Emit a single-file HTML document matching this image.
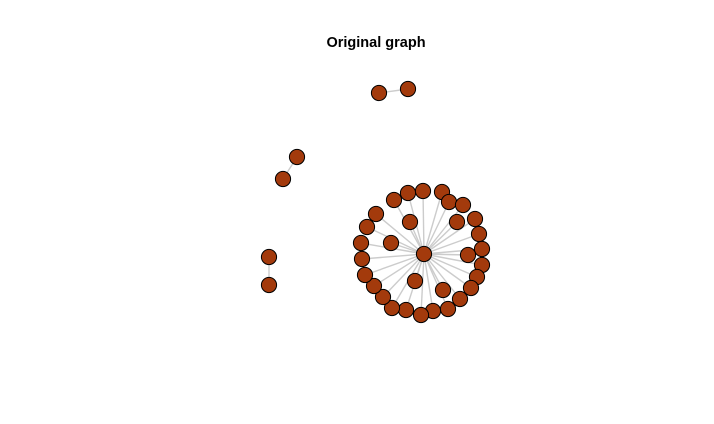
<!DOCTYPE html>
<html><head><meta charset="utf-8"><style>
html,body{margin:0;padding:0;background:#fff}
svg{display:block}
</style></head><body>
<svg id="g" width="714" height="424" xmlns="http://www.w3.org/2000/svg">
<text x="376" y="47" text-anchor="middle" font-family="Liberation Sans, sans-serif" font-weight="bold" font-size="14.5">Original graph</text>
<g id="edges"></g><g id="nodes"></g>
</svg>
<script>
const nodeX=[424,394,408,423,442,449,463,475,479,482,482,477,471,460,448,433,421,406,392,383,374,365,362,361,367,376,410,457,391,468,415,443,379,408,297,283,269,269];
const nodeY=[254,200,193,191,192,202,205,219,234,249,265,277,288,299,309,311,315,310,308,297,286,275,259,243,227,214,222,222,243,255,281,290,93,89,157,179,257,285];
const edgeFrom=[];const edgeTo=[];
for(let i=1;i<=31;i++){edgeFrom.push(0);edgeTo.push(i);}
edgeFrom.push(32,34,36);edgeTo.push(33,35,37);
const ns="http://www.w3.org/2000/svg";
const eg=document.getElementById('edges'),ng=document.getElementById('nodes');
for(let k=0;k<edgeFrom.length;k++){
const l=document.createElementNS(ns,'line');
l.setAttribute('x1',nodeX[edgeFrom[k]]);l.setAttribute('y1',nodeY[edgeFrom[k]]);
l.setAttribute('x2',nodeX[edgeTo[k]]);l.setAttribute('y2',nodeY[edgeTo[k]]);
l.setAttribute('stroke','#cccccc');l.setAttribute('stroke-width','1.4');


eg.appendChild(l);}
for(let i=0;i<nodeX.length;i++){
const c=document.createElementNS(ns,'circle');
c.setAttribute('cx',nodeX[i]);c.setAttribute('cy',nodeY[i]);c.setAttribute('r','7.6');
c.setAttribute('fill','#a33a0c');c.setAttribute('stroke','#000');c.setAttribute('stroke-width','1');


ng.appendChild(c);}
</script>
</body></html>
